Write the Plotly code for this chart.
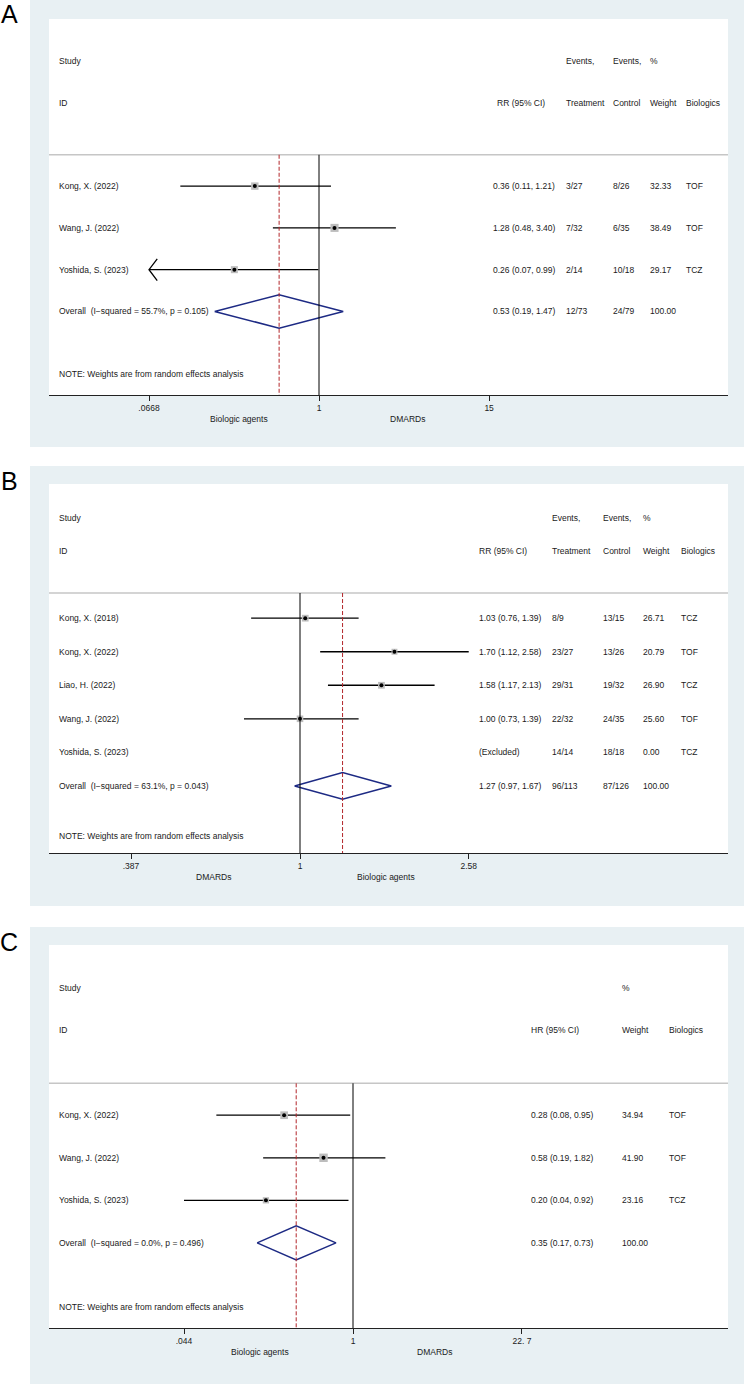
import math
import plotly.graph_objects as go

W, H = 744, 1384
FONT = "Liberation Sans, Arial, Helvetica, sans-serif"
FS = 8.5
TXT = "#1a1a1a"
BG = "#e8f0f3"

# ---------------- Panel A data ----------------
a_studies = ["Kong, X. (2022)", "Wang, J. (2022)", "Yoshida, S. (2023)"]
a_rr = [0.36, 1.28, 0.26]
a_lo = [0.11, 0.48, 0.066]
a_hi = [1.21, 3.40, 0.99]
a_ev_t = ["3/27", "7/32", "2/14"]
a_ev_c = ["8/26", "6/35", "10/18"]
a_weight = [32.33, 38.49, 29.17]
a_bio = ["TOF", "TOF", "TCZ"]
a_overall = [0.53, 0.19, 1.47]
a_overall_label = "Overall  (I\u2212squared = 55.7%, p = 0.105)"
a_overall_ev_t = "12/73"
a_overall_ev_c = "24/79"
a_ticks = [0.0668, 1, 15]
a_ticktext = [".0668", "1", "15"]
a_left_label = "Biologic agents"
a_right_label = "DMARDs"

# ---------------- Panel B data ----------------
b_studies = ["Kong, X. (2018)", "Kong, X. (2022)", "Liao, H. (2022)", "Wang, J. (2022)", "Yoshida, S. (2023)"]
b_rr = [1.03, 1.70, 1.58, 1.00, None]
b_lo = [0.76, 1.12, 1.17, 0.73, None]
b_hi = [1.39, 2.58, 2.13, 1.39, None]
b_ev_t = ["8/9", "23/27", "29/31", "22/32", "14/14"]
b_ev_c = ["13/15", "13/26", "19/32", "24/35", "18/18"]
b_weight = [26.71, 20.79, 26.90, 25.60, 0.00]
b_bio = ["TCZ", "TOF", "TCZ", "TOF", "TCZ"]
b_overall = [1.27, 0.97, 1.67]
b_overall_label = "Overall  (I\u2212squared = 63.1%, p = 0.043)"
b_overall_ev_t = "96/113"
b_overall_ev_c = "87/126"
b_ticks = [0.387, 1, 2.58]
b_ticktext = [".387", "1", "2.58"]
b_left_label = "DMARDs"
b_right_label = "Biologic agents"

# ---------------- Panel C data ----------------
c_studies = ["Kong, X. (2022)", "Wang, J. (2022)", "Yoshida, S. (2023)"]
c_hr = [0.28, 0.58, 0.20]
c_lo = [0.08, 0.19, 0.044]
c_hi = [0.95, 1.82, 0.92]
c_weight = [34.94, 41.90, 23.16]
c_bio = ["TOF", "TOF", "TCZ"]
c_overall = [0.35, 0.17, 0.73]
c_overall_label = "Overall  (I\u2212squared = 0.0%, p = 0.496)"
c_ticks = [0.044, 1, 22.7]
c_ticktext = [".044", "1", "22. 7"]
c_left_label = "Biologic agents"
c_right_label = "DMARDs"

NOTE = "NOTE: Weights are from random effects analysis"


def px_x(x):
    return x / W


def px_y(y):
    return 1 - y / H


def ci_str(r, l, h):
    if r is None:
        return "(Excluded)"
    return f"{r:.2f} ({l:.2f}, {h:.2f})"


def log_range(vmin, px_min, px_one, px_left, px_right):
    per_px = -math.log10(vmin) / (px_one - px_min)
    return [-(px_one - px_left) * per_px, (px_right - px_one) * per_px]


fig = go.Figure()
shapes = []
annotations = []

PL, PR = 49, 728  # plot area pixels (x)


def text(xpx, yref, yval, s, anchor="left", size=FS):
    annotations.append(dict(
        x=px_x(xpx), xref="paper", y=yval, yref=yref, text=s,
        showarrow=False, xanchor=anchor, yanchor="middle",
        font=dict(family=FONT, size=size, color=TXT)))


def panel(k, letter, bg_px, white_px, studies, est, lo, hi, weights, cols,
          overall, overall_label, ticks, ticktext, tick_px, labels):
    xa = "x" if k == 1 else f"x{k}"
    ya = "y" if k == 1 else f"y{k}"
    n = len(studies)
    bottom = n + 2
    # backgrounds
    shapes.append(dict(type="rect", xref="paper", yref="paper", layer="below",
                       x0=px_x(30), x1=1, y0=px_y(bg_px[1]), y1=px_y(bg_px[0]),
                       fillcolor=BG, line=dict(width=0)))
    shapes.append(dict(type="rect", xref="paper", yref="paper", layer="below",
                       x0=px_x(PL), x1=px_x(PR), y0=px_y(white_px[1]), y1=px_y(white_px[0]),
                       fillcolor="white", line=dict(width=0)))
    annotations.append(dict(x=px_x(9), xref="paper", y=px_y(bg_px[0] + 15 if k > 1 else 14),
                            yref="paper", text=letter, showarrow=False,
                            xanchor="center", yanchor="middle",
                            font=dict(family=FONT, size=25, color="black")))
    xmin, xmax = ticks[0], ticks[-1]
    # header separator
    shapes.append(dict(type="line", xref="paper", yref=ya, x0=px_x(PL), x1=px_x(PR),
                       y0=-0.75, y1=-0.75, line=dict(color="#c6c6c6", width=1.5)))
    # null line and overall line
    shapes.append(dict(type="line", xref=xa, yref=ya, x0=1, x1=1, y0=-0.75, y1=bottom,
                       line=dict(color="black", width=1)))
    shapes.append(dict(type="line", xref=xa, yref=ya, x0=overall[0], x1=overall[0],
                       y0=-0.75, y1=bottom, line=dict(color="#b3262a", width=1, dash="4px,2px")))
    # study rows
    for i in range(n):
        if est[i] is None:
            continue
        l = max(lo[i], xmin)
        h = min(hi[i], xmax)
        fig.add_trace(go.Scatter(x=[l, h], y=[i, i], mode="lines", xaxis=xa, yaxis=ya,
                                 line=dict(color="black", width=1.3), hoverinfo="skip",
                                 showlegend=False))
        if lo[i] < xmin:
            fig.add_trace(go.Scatter(x=[xmin * 1.14, xmin, xmin * 1.14], y=[i - 0.26, i, i + 0.26],
                                     mode="lines", xaxis=xa, yaxis=ya,
                                     line=dict(color="black", width=1.3), hoverinfo="skip",
                                     showlegend=False))
        fig.add_trace(go.Scatter(x=[est[i]], y=[i], mode="markers", xaxis=xa, yaxis=ya,
                                 marker=dict(symbol="square", size=1.3 * math.sqrt(weights[i]),
                                             color="#bdbdbd", line=dict(width=0)),
                                 hoverinfo="skip", showlegend=False))
        fig.add_trace(go.Scatter(x=[est[i]], y=[i], mode="markers", xaxis=xa, yaxis=ya,
                                 marker=dict(symbol="circle", size=4, color="black"),
                                 hoverinfo="skip", showlegend=False))
    # overall diamond
    e, l, h = overall
    fig.add_trace(go.Scatter(x=[l, e, h, e, l], y=[n, n - 0.4, n, n + 0.4, n], mode="lines",
                             xaxis=xa, yaxis=ya, line=dict(color="#1d2a84", width=1.5),
                             hoverinfo="skip", showlegend=False))
    # left text
    text(57, ya, -3, "Study")
    text(57, ya, -2, "ID")
    for i, s in enumerate(studies):
        text(57, ya, i, s)
    text(57, ya, n, overall_label)
    text(57, ya, n + 1.5, NOTE)
    # columns
    for (top, head, hx, dx, vals, ov) in cols:
        if top:
            text(hx, ya, -3, top)
        text(hx, ya, -2, head)
        for i, v in enumerate(vals):
            if v:
                text(dx, ya, i, v)
        if ov:
            text(dx, ya, n, ov)
    # axis labels
    ly = white_px[1] + 24
    text(labels[0][1], "paper", px_y(ly), labels[0][0], anchor="center")
    text(labels[1][1], "paper", px_y(ly), labels[1][0], anchor="center")
    # axes
    rng = log_range(xmin, tick_px[0], tick_px[1], PL, PR)
    fig.layout[("xaxis" if k == 1 else f"xaxis{k}")] = dict(
        type="log", range=rng, domain=[px_x(PL), px_x(PR)], anchor=ya,
        tickvals=ticks, ticktext=ticktext, ticks="outside", ticklen=5, tickwidth=1,
        tickcolor="#222", showline=True, linecolor="#222", linewidth=1.2,
        showgrid=False, zeroline=False, fixedrange=True,
        tickfont=dict(family=FONT, size=FS, color=TXT))
    fig.layout[("yaxis" if k == 1 else f"yaxis{k}")] = dict(
        range=[bottom, -4], domain=[px_y(white_px[1]), px_y(white_px[0])], anchor=xa,
        visible=False, fixedrange=True)


# Panel A
a_cols = [
    ("", "RR (95% CI)", 495, 491, [ci_str(r, l, h) for r, l, h in zip(a_rr, a_lo, a_hi)],
     ci_str(*a_overall)),
    ("Events,", "Treatment", 564, 564, a_ev_t, a_overall_ev_t),
    ("Events,", "Control", 611, 611, a_ev_c, a_overall_ev_c),
    ("%", "Weight", 648, 648, [f"{w:.2f}" for w in a_weight], "100.00"),
    ("", "Biologics", 684, 684, a_bio, ""),
]
panel(1, "A", (0, 447), (19, 395), a_studies, a_rr, a_lo, a_hi, a_weight, a_cols,
      a_overall, a_overall_label, a_ticks, a_ticktext, (149, 319),
      [(a_left_label, 239), (a_right_label, 408)])

# Panel B
b_cols = [
    ("", "RR (95% CI)", 477, 477, [ci_str(r, l, h) for r, l, h in zip(b_rr, b_lo, b_hi)],
     ci_str(*b_overall)),
    ("Events,", "Treatment", 550, 550, b_ev_t, b_overall_ev_t),
    ("Events,", "Control", 601, 601, b_ev_c, b_overall_ev_c),
    ("%", "Weight", 641, 641, [f"{w:.2f}" for w in b_weight], "100.00"),
    ("", "Biologics", 679, 679, b_bio, ""),
]
panel(2, "B", (466, 906), (484, 853), b_studies, b_rr, b_lo, b_hi, b_weight, b_cols,
      b_overall, b_overall_label, b_ticks, b_ticktext, (131, 300),
      [(b_left_label, 213), (b_right_label, 386)])

# Panel C
c_cols = [
    ("", "HR (95% CI)", 529, 529, [ci_str(r, l, h) for r, l, h in zip(c_hr, c_lo, c_hi)],
     ci_str(*c_overall)),
    ("%", "Weight", 620, 620, [f"{w:.2f}" for w in c_weight], "100.00"),
    ("", "Biologics", 667, 667, c_bio, ""),
]
panel(3, "C", (927, 1384), (945, 1328), c_studies, c_hr, c_lo, c_hi, c_weight, c_cols,
      c_overall, c_overall_label, c_ticks, c_ticktext, (184, 353),
      [(c_left_label, 260), (c_right_label, 434)])

fig.update_layout(
    width=W, height=H, margin=dict(l=0, r=0, t=0, b=0),
    paper_bgcolor="white", plot_bgcolor="rgba(0,0,0,0)",
    shapes=shapes, annotations=annotations, showlegend=False,
    font=dict(family=FONT, size=FS, color=TXT),
)

fig.write_html("out.html")
